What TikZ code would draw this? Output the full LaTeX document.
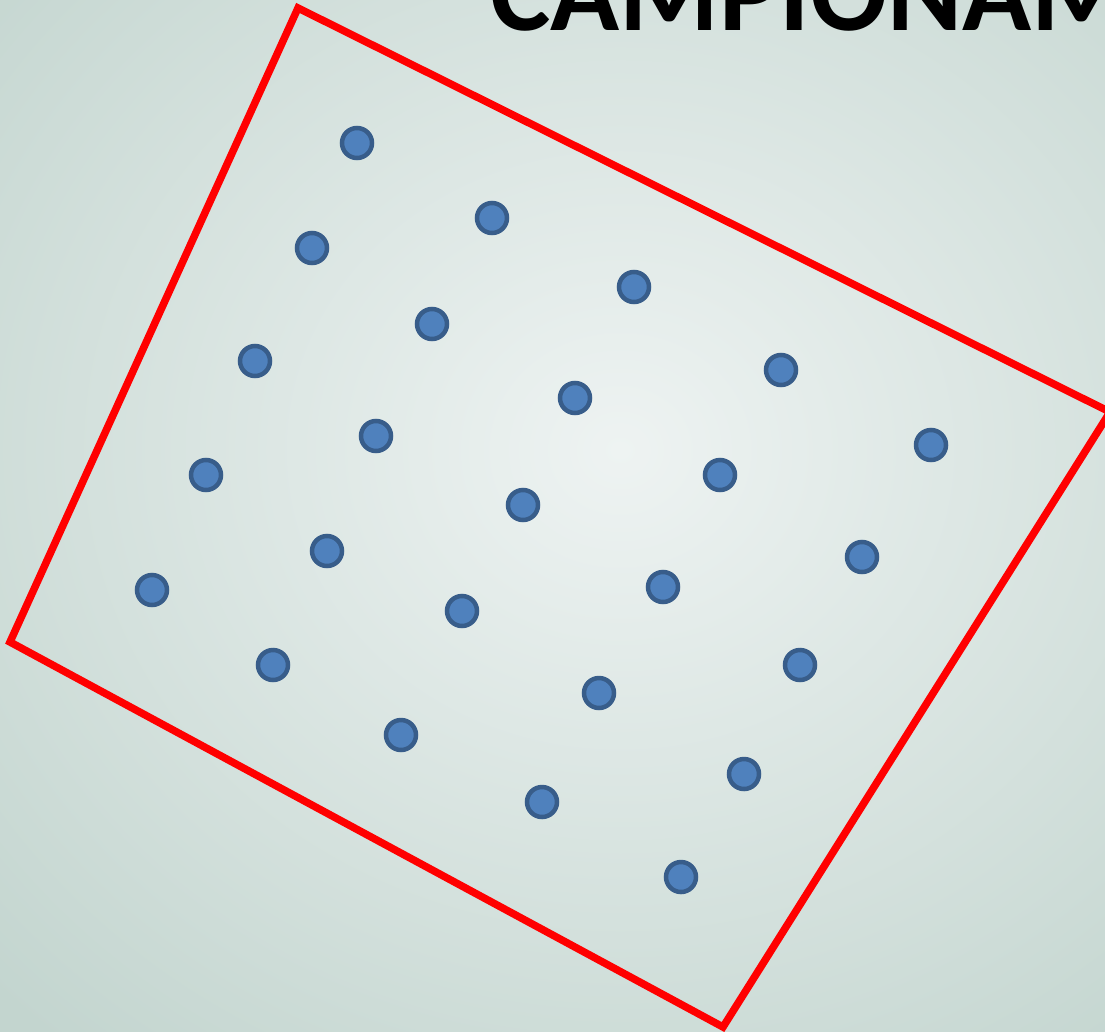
\documentclass[tikz,border=0pt]{standalone}
\usepackage{fontspec}
\newfontfamily\titlefont{Carlito}
\begin{document}
\begin{tikzpicture}[x=1pt,y=-1pt,
  dot/.style={circle,draw=dotborder,fill=dotfill,line width=4.5pt,minimum size=30pt,inner sep=0pt},
  frame/.style={draw=red,line width=7.5pt,line join=miter}]
\definecolor{dotfill}{HTML}{4F81BD}
\definecolor{dotborder}{HTML}{385D8A}
\definecolor{bgin}{HTML}{EEF3F2}
\definecolor{bgout}{HTML}{C3D5CF}
\clip (0,0) rectangle (1105,1031);
\shade[inner color=bgin,outer color=bgout] (-250,-330) rectangle (1490,1230);
\node[anchor=base west,inner sep=0pt,font=\titlefont\bfseries\fontsize{114}{126}\selectfont] (title) at (490,30) {CAMPIONAMENTO};
\coordinate (t) at (298,8);
\coordinate (r) at (1110,412);
\coordinate (b) at (723,1027);
\coordinate (l) at (10,642);
\draw[frame] (t) -- (r) -- (b) -- (l) -- cycle;
\foreach \x/\y [count=\i] in {357/143,492/218,634/287,781/370,931/445,
  312/248,432/324,575/398,720/475,862/557,
  255/361,376/436,523/505,663/587,800/665,
  206/475,327/551,462/611,599/693,744/774,
  152/590,273/665,401/735,542/802,681/877}
  \node[dot] (d\i) at (\x,\y) {};
\end{tikzpicture}
\end{document}
